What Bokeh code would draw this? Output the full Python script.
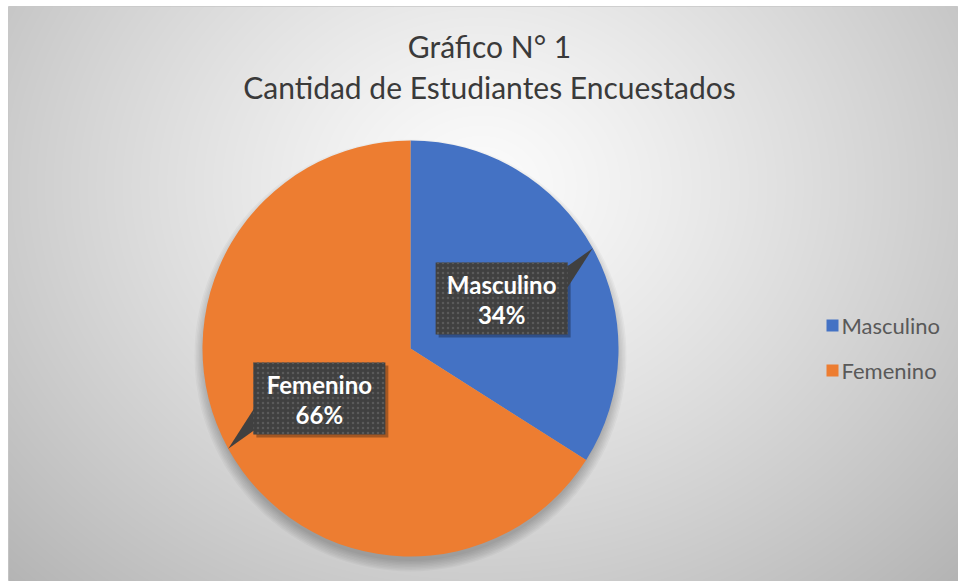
import numpy as np
from bokeh.plotting import figure
from bokeh.models import Range1d
from bokeh.core.properties import value
from bokeh.embed import file_html
from bokeh.resources import INLINE

# ---- data ----
title_lines = ["Gráfico N° 1", "Cantidad de Estudiantes Encuestados"]
categories = ["Masculino", "Femenino"]
percents = [34, 66]
colors = ["#4472C4", "#ED7D31"]

W, H = 950, 575
p = figure(width=958, height=581, x_range=Range1d(0, W), y_range=Range1d(0, H),
           output_backend="svg", toolbar_location=None, min_border=0,
           min_border_left=8, min_border_top=6, min_border_right=0,
           min_border_bottom=0, x_axis_type=None, y_axis_type=None)
p.grid.visible = False
p.outline_line_color = "#c8c8c8"
p.background_fill_color = "#d9d9d9"
p.border_fill_color = "white"

# ---- radial background gradient ----
yy, xx = np.mgrid[0:H, 0:W]
img_y = H - yy  # row counted from top of frame
d = np.sqrt(((xx - 472) / 560.0) ** 2 + ((img_y - 180) / 470.0) ** 2)
g = (252 - 58 * np.clip(d, 0, 1.3) ** 1.2).clip(0, 255).astype(np.uint32)
rgba = (255 << 24) | (g << 16) | (g << 8) | g
p.image_rgba(image=[rgba.astype(np.uint32)], x=0, y=0, dw=W, dh=H)

# ---- title ----
tx = 481
p.text(x=[tx, tx], y=[536, 495], text=title_lines,
       text_font=value("Lato"), text_font_size="30px", text_color="#3a3a3a",
       text_align="center", text_baseline="middle")

# ---- pie ----
cx, cy, r = 402, 233, 208
vals = np.array(percents, dtype=float)
frac = vals / vals.sum()
cum = np.concatenate([[0], np.cumsum(frac)])
starts = np.pi / 2 - 2 * np.pi * cum[:-1]
ends = np.pi / 2 - 2 * np.pi * cum[1:]
mids = (starts + ends) / 2

# soft shadow
for k in range(8):
    p.circle(x=[cx], y=[cy - 7], radius=r + 8 - k * 1.5, fill_color="black",
             fill_alpha=0.03, line_color=None)

p.wedge(x=cx, y=cy, radius=r, start_angle=list(starts), end_angle=list(ends),
        direction="clock", fill_color=colors, line_color=None)

# ---- callout labels ----
bw, bh = 132, 72
for cat, pc, m in zip(categories, percents, mids):
    bx = cx + 0.5 * r * np.cos(m)
    by = cy + 0.5 * r * np.sin(m)
    tipx = cx + r * np.cos(m)
    tipy = cy + r * np.sin(m)
    sx = 1 if np.cos(m) > 0 else -1
    sy = 1 if np.sin(m) > 0 else -1
    ex = bx + sx * bw / 2
    # shadow
    p.rect(x=[bx + 3], y=[by - 3], width=bw, height=bh, fill_color="black",
           fill_alpha=0.3, line_color=None)
    p.patch(x=[ex - sx * 2, tipx, ex - sx * 2],
            y=[by + sy * 8, tipy, by + sy * 31], fill_color="#404040",
            line_color=None)
    p.rect(x=[bx], y=[by], width=bw, height=bh, fill_color="#404040",
           line_color=None, hatch_pattern="dot", hatch_color="#5a5a5a",
           hatch_scale=5, hatch_weight=1)
    p.text(x=[bx, bx], y=[by + 14, by - 16], text=[cat, f"{pc}%"],
           text_font=value("Lato"), text_font_style="bold",
           text_font_size="24px", text_color="white",
           text_align="center", text_baseline="middle")

# ---- legend ----
leg_x = 824
leg_y = [256, 211]
p.rect(x=[leg_x] * 2, y=leg_y, width=12, height=12, fill_color=colors,
       line_color=None)
p.text(x=[leg_x + 9] * 2, y=leg_y, text=categories,
       text_font=value("Lato"), text_font_size="22px", text_color="#595959",
       text_align="left", text_baseline="middle")

open("out.html", "w").write(file_html(p, INLINE))
